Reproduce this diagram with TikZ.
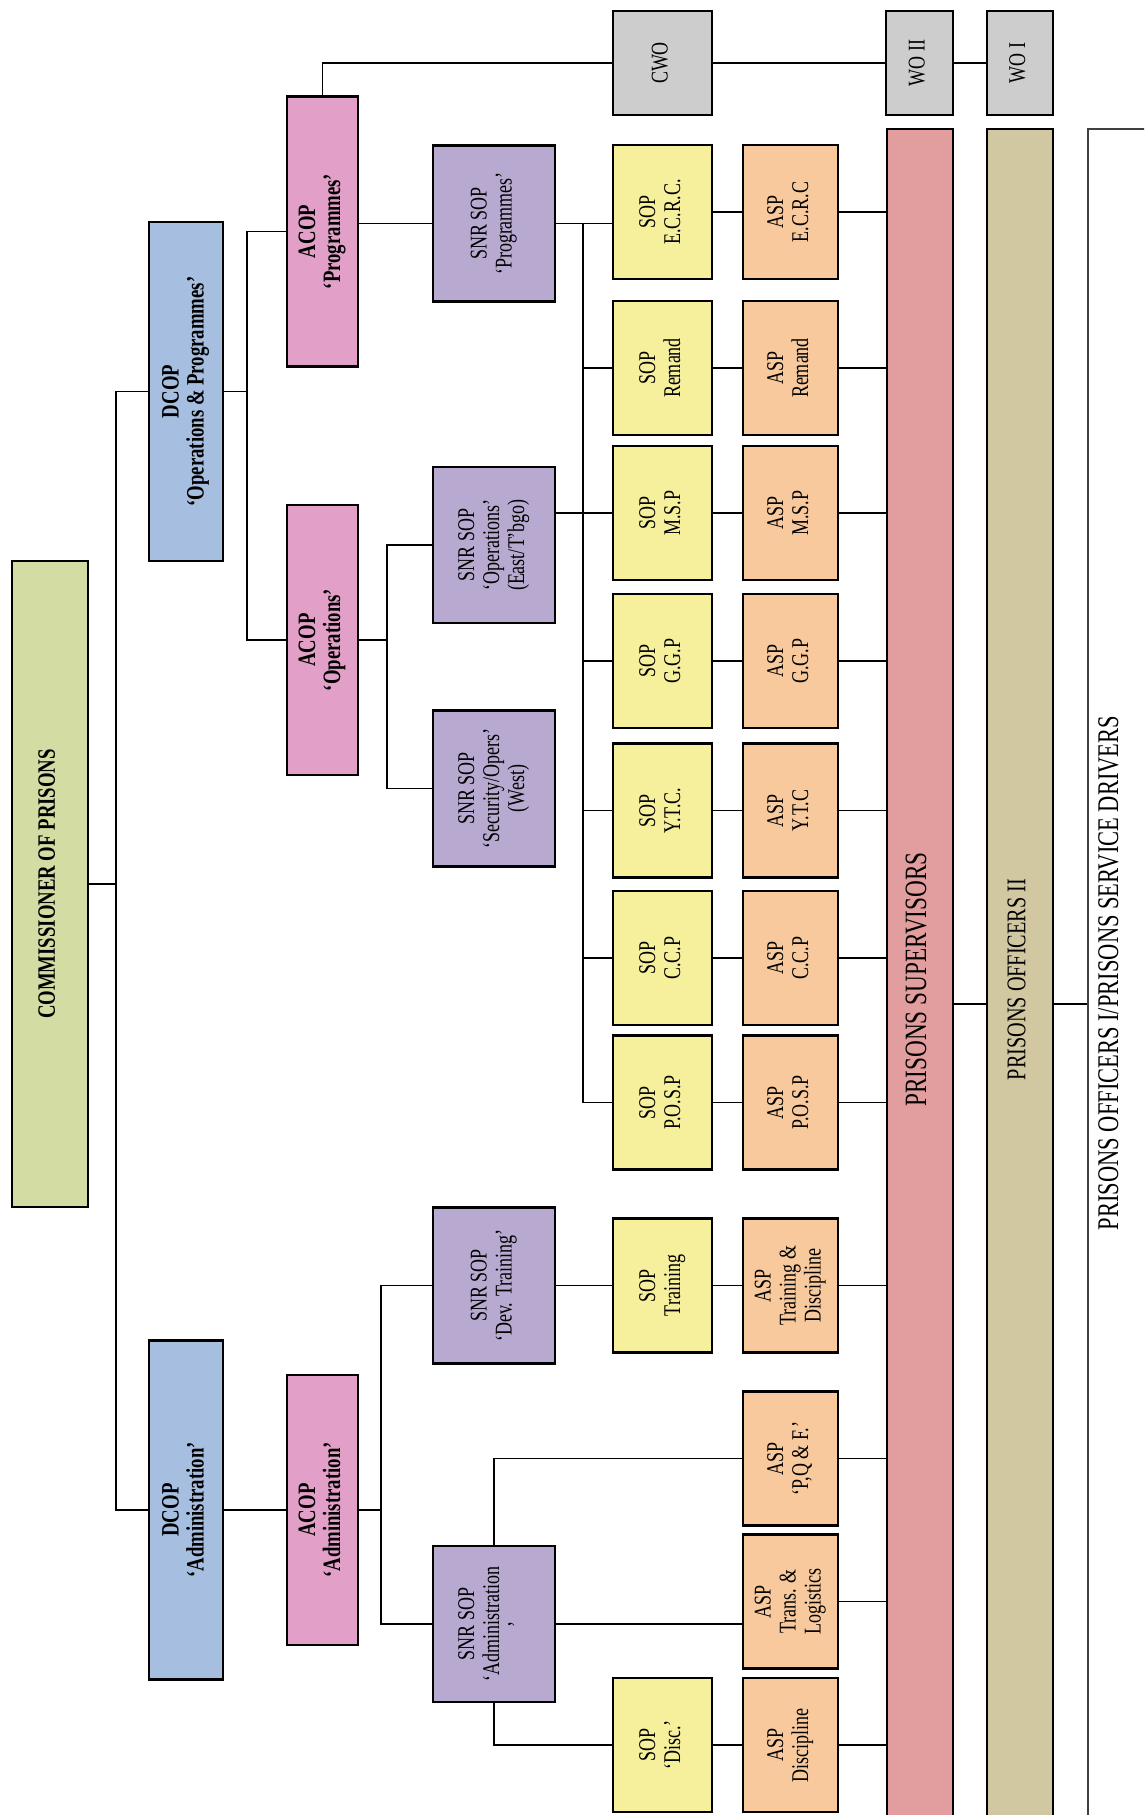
\documentclass[tikz,border=0pt]{standalone}
\usepackage{fontspec}
\setmainfont{Liberation Serif}[FakeStretch=0.75]
\usepackage{graphicx}
\usepackage{tikz}
\definecolor{comgreen}{HTML}{D3DCA2}
\definecolor{dcopblue}{HTML}{A6BEDF}
\definecolor{acoppink}{HTML}{E2A0C8}
\definecolor{snrlilac}{HTML}{B8A9D1}
\definecolor{sopyellow}{HTML}{F6EF9C}
\definecolor{asppeach}{HTML}{F7C99C}
\definecolor{wogrey}{HTML}{CDCDCD}
\definecolor{suprose}{HTML}{E29E9F}
\definecolor{pokhaki}{HTML}{D1C8A1}
\newcommand{\vlabel}[1]{\rotatebox{90}{\begin{tabular}{@{}c@{}}#1\end{tabular}}}

\begin{document}
\begin{tikzpicture}[x=1pt, y=-1pt,
		rankbox/.style={draw, line width=2.6pt, inner sep=0pt, font=\fontsize{24}{25}\selectfont},
		chiefbox/.style={rankbox, font=\bfseries\fontsize{25}{25}\selectfont},
		combox/.style={chiefbox, fill=comgreen, minimum width=76pt, minimum height=646pt},
		dcopbox/.style={chiefbox, fill=dcopblue, minimum width=74pt, minimum height=339pt},
		acopbox/.style={chiefbox, fill=acoppink, minimum width=71pt, minimum height=270pt},
		snrbox/.style={rankbox, fill=snrlilac, minimum width=122pt, minimum height=156pt},
		sopbox/.style={rankbox, fill=sopyellow, minimum width=99pt, minimum height=134pt},
		aspbox/.style={rankbox, fill=asppeach, minimum width=95pt, minimum height=134pt},
		wobox/.style={rankbox, fill=wogrey, minimum height=104pt},
		barbox/.style={rankbox, minimum width=66pt, minimum height=1701pt},
		wire/.style={line width=1.8pt}]
		%%%%% START %%%%%
		
		\useasboundingbox (0, 0) rectangle (1144, 1815);
		\clip (0, 0) rectangle (1144, 1815);
		
		\node[combox] (com) at (50, 884) {\vlabel{COMMISSIONER OF PRISONS}};
		
		\node[dcopbox] (dcopops) at (186, 391.5) {\vlabel{DCOP\\‘Operations \& Programmes’}};
		\node[dcopbox] (dcopadm) at (186, 1510) {\vlabel{DCOP\\‘Administration’}};
		
		\node[acopbox] (acopprog) at (322.5, 231.5) {\vlabel{ACOP\\‘Programmes’}};
		\node[acopbox] (acopops) at (322.5, 640) {\vlabel{ACOP\\‘Operations’}};
		\node[acopbox] (acopadm) at (322.5, 1510) {\vlabel{ACOP\\‘Administration’}};
		
		\node[snrbox] (snrprog) at (494, 223.5) {\vlabel{SNR SOP\\‘Programmes’}};
		\node[snrbox] (snrops) at (494, 545) {\vlabel{SNR SOP\\‘Operations’\\(East/T’bgo)}};
		\node[snrbox] (snrsec) at (494, 788.5) {\vlabel{SNR SOP\\‘Security/Opers’\\(West)}};
		\node[snrbox] (snrdev) at (494, 1285.5) {\vlabel{SNR SOP\\‘Dev. Training’}};
		\node[snrbox] (snradm) at (494, 1624) {\vlabel{SNR SOP\\‘Administration\\’}};
		
		\node[wobox, minimum width=99pt] (cwo) at (662.5, 63) {\vlabel{CWO}};
		\node[wobox, minimum width=67pt] (wo2) at (919.5, 63) {\vlabel{WO II}};
		\node[wobox, minimum width=66pt] (wo1) at (1020, 63) {\vlabel{WO I}};
		
		\node[sopbox] (sopecrc) at (662.5, 212) {\vlabel{SOP\\E.C.R.C.}};
		\node[sopbox] (sopremand) at (662.5, 368) {\vlabel{SOP\\Remand}};
		\node[sopbox] (sopmsp) at (662.5, 513) {\vlabel{SOP\\M.S.P}};
		\node[sopbox] (sopggp) at (662.5, 661) {\vlabel{SOP\\G.G.P}};
		\node[sopbox] (sopytc) at (662.5, 810.5) {\vlabel{SOP\\Y.T.C.}};
		\node[sopbox] (sopccp) at (662.5, 958) {\vlabel{SOP\\C.C.P}};
		\node[sopbox] (sopposp) at (662.5, 1102.5) {\vlabel{SOP\\P.O.S.P}};
		\node[sopbox] (soptrain) at (662.5, 1285.5) {\vlabel{SOP\\Training}};
		\node[sopbox] (sopdisc) at (662.5, 1745) {\vlabel{SOP\\‘Disc.’}};
		
		\node[aspbox] (aspecrc) at (790.5, 212) {\vlabel{ASP\\E.C.R.C}};
		\node[aspbox] (aspremand) at (790.5, 368) {\vlabel{ASP\\Remand}};
		\node[aspbox] (aspmsp) at (790.5, 513) {\vlabel{ASP\\M.S.P}};
		\node[aspbox] (aspggp) at (790.5, 661) {\vlabel{ASP\\G.G.P}};
		\node[aspbox] (aspytc) at (790.5, 810.5) {\vlabel{ASP\\Y.T.C}};
		\node[aspbox] (aspccp) at (790.5, 958) {\vlabel{ASP\\C.C.P}};
		\node[aspbox] (aspposp) at (790.5, 1102.5) {\vlabel{ASP\\P.O.S.P}};
		\node[aspbox] (asptrain) at (790.5, 1285.5) {\vlabel{ASP\\Training \&\\Discipline}};
		\node[aspbox] (asppqf) at (790.5, 1458.5) {\vlabel{ASP\\‘P,Q \& F.’}};
		\node[aspbox] (asptrans) at (790.5, 1601.5) {\vlabel{ASP\\Trans. \&\\Logistics}};
		\node[aspbox] (aspdisc) at (790.5, 1745) {\vlabel{ASP\\Discipline}};
		
		\node[barbox, fill=suprose, font=\fontsize{31}{31}\selectfont] (sup) at (920, 979.5) {\vlabel{PRISONS SUPERVISORS}};
		\node[barbox, fill=pokhaki, font=\fontsize{27}{27}\selectfont] (po2) at (1020, 979.5) {\vlabel{PRISONS OFFICERS II}};
		\node[barbox, fill=white, draw=black!75, line width=2pt, minimum width=112pt] (po1) at (1144, 979.5) {};
		\node[font=\fontsize{30}{30}\selectfont] (po1txt) at (1112, 973) {\vlabel{PRISONS OFFICERS I/PRISONS SERVICE DRIVERS}};
		
		% branch points
		\coordinate (trunk) at (116, 0);
		\coordinate (opsspine) at (247, 0);
		\coordinate (opsfork) at (387, 0);
		\coordinate (admfork) at (381, 0);
		\coordinate (bus) at (583, 0);
		\coordinate (lvl) at (0, 1004);
		
		\draw[wire] (com.east) -- (com.east -| trunk);
		\draw[wire] (dcopops.west) -| (trunk |- dcopadm.west) -- (dcopadm.west);
		
		\draw[wire] (dcopops.east) -- (dcopops.east -| opsspine);
		\draw[wire] (acopprog.west) -| (opsspine |- acopops.west) -- (acopops.west);
		\draw[wire] (dcopadm) -- (acopadm);
		
		\draw[wire] (acopprog.north) |- (cwo.west);
		\draw[wire] (cwo) -- (wo2) -- (wo1);
		
		\draw[wire] (snrprog.west -| acopprog.east) -- (snrprog.west);
		\draw[wire] (acopops.east) -- (acopops.east -| opsfork);
		\draw[wire] (snrops.west) -| (opsfork |- snrsec.west) -- (snrsec.west);
		\draw[wire] (acopadm.east) -- (acopadm.east -| admfork);
		\draw[wire] (snrdev.west) -| (admfork |- snradm.west) -- (snradm.west);
		
		\draw[wire] (snrprog.east) -- (snrprog.east -| sopecrc.west);
		\draw[wire] (bus |- snrprog.east) -- (bus |- sopposp.west) -- (sopposp.west);
		\draw[wire] (bus |- sopremand.west) -- (sopremand.west);
		\draw[wire] (snrops.east |- sopmsp.west) -- (sopmsp.west);
		\draw[wire] (bus |- sopggp.west) -- (sopggp.west);
		\draw[wire] (bus |- sopytc.west) -- (sopytc.west);
		\draw[wire] (bus |- sopccp.west) -- (sopccp.west);
		
		\draw[wire] (snrdev) -- (soptrain);
		\draw[wire] (snradm.north) |- (asppqf.west);
		\draw[wire] (snradm.east) -- (snradm.east -| asptrans.west);
		\draw[wire] (snradm.south) |- (sopdisc.west);
		
		\draw[wire] (sopecrc) -- (aspecrc);
		\draw[wire] (sopremand) -- (aspremand);
		\draw[wire] (sopmsp) -- (aspmsp);
		\draw[wire] (sopggp) -- (aspggp);
		\draw[wire] (sopytc) -- (aspytc);
		\draw[wire] (sopccp) -- (aspccp);
		\draw[wire] (sopposp) -- (aspposp);
		\draw[wire] (soptrain) -- (asptrain);
		\draw[wire] (sopdisc) -- (aspdisc);
		
		\draw[wire] (aspecrc.east) -- (aspecrc.east -| sup.west);
		\draw[wire] (aspremand.east) -- (aspremand.east -| sup.west);
		\draw[wire] (aspmsp.east) -- (aspmsp.east -| sup.west);
		\draw[wire] (aspggp.east) -- (aspggp.east -| sup.west);
		\draw[wire] (aspytc.east) -- (aspytc.east -| sup.west);
		\draw[wire] (aspccp.east) -- (aspccp.east -| sup.west);
		\draw[wire] (aspposp.east) -- (aspposp.east -| sup.west);
		\draw[wire] (asptrain.east) -- (asptrain.east -| sup.west);
		\draw[wire] (asppqf.east) -- (asppqf.east -| sup.west);
		\draw[wire] (asptrans.east) -- (asptrans.east -| sup.west);
		\draw[wire] (aspdisc.east) -- (aspdisc.east -| sup.west);
		
		\draw[wire] (sup.east |- lvl) -- (po2.west |- lvl);
		\draw[wire] (po2.east |- lvl) -- (po1.west |- lvl);
		
		%%%%% END %%%%%
	\end{tikzpicture}
\end{document}
